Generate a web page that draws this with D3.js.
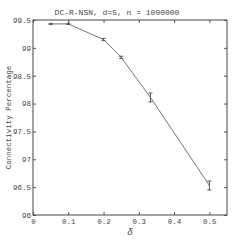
<!DOCTYPE html>
<html>
<head>
<meta charset="utf-8">
<script src="https://cdn.jsdelivr.net/npm/d3@7"></script>
<style>
body{margin:0;background:#fff;}
text{font-family:"Liberation Mono","DejaVu Sans Mono",monospace;fill:#444;}
</style>
</head>
<body>
<script>
// data
var deltas = [0.05, 0.1, 0.2, 0.25, 0.333, 0.5];
var conn = [99.43, 99.43, 99.15, 98.83, 98.11, 96.53];
var errs = [0.01, 0.01, 0.02, 0.02, 0.08, 0.08];
var xTicks = [0, 0.1, 0.2, 0.3, 0.4, 0.5];
var yTicks = [96, 96.5, 97, 97.5, 98, 98.5, 99, 99.5];

var W = 251, H = 245;
var pLeft = 33, pRight = 227, pTop = 20, pBottom = 215;

var svg = d3.select("body").append("svg").attr("width", W).attr("height", H);

var x = d3.scaleLinear().domain([0, 0.55]).range([pLeft, pRight]);
var y = d3.scaleLinear().domain([96, 99.5]).range([pBottom, pTop]);

//axes box with inward ticks like matlab
var tk = 3;
svg.append("g").attr("transform", "translate(0," + pBottom + ")")
    .call(d3.axisBottom(x).tickValues(xTicks).tickSize(-tk).tickPadding(4).tickFormat(d3.format("")))
    .call(function(g){ g.select(".domain").remove(); });
svg.append("g").attr("transform", "translate(0," + pTop + ")")
    .call(d3.axisTop(x).tickValues(xTicks).tickSize(-tk).tickFormat(""))
    .call(function(g){ g.select(".domain").remove(); });
svg.append("g").attr("transform", "translate(" + pLeft + ",0)")
    .call(d3.axisLeft(y).tickValues(yTicks).tickSize(-tk).tickPadding(2).tickFormat(d3.format("")))
    .call(function(g){ g.select(".domain").remove(); });
svg.append("g").attr("transform", "translate(" + pRight + ",0)")
    .call(d3.axisRight(y).tickValues(yTicks).tickSize(-tk).tickFormat(""))
    .call(function(g){ g.select(".domain").remove(); });

svg.selectAll(".tick line").attr("stroke", "#555");
svg.selectAll(".tick text").attr("font-size", 7.5).attr("font-family", "Liberation Mono").attr("fill", "#555");

svg.append("rect").attr("x", pLeft).attr("y", pTop)
    .attr("width", pRight - pLeft).attr("height", pBottom - pTop)
    .attr("fill", "none").attr("stroke", "#444").attr("stroke-width", 1);

//the line
var pts = deltas.map(function(d, i){ return {x: d, y: conn[i], e: errs[i]}; });
svg.append("path").datum(pts)
    .attr("fill", "none").attr("stroke", "#777").attr("stroke-width", 1)
    .attr("d", d3.line().x(function(d){ return x(d.x); }).y(function(d){ return y(d.y); }));

//error bars
var eb = svg.append("g").attr("stroke", "#555").attr("stroke-width", 1).attr("fill", "none");
pts.forEach(function(d){
    var cx = x(d.x), y1 = y(d.y + d.e), y2 = y(d.y - d.e);
    eb.append("line").attr("x1", cx).attr("x2", cx).attr("y1", y1).attr("y2", y2);
    eb.append("line").attr("x1", cx - 2).attr("x2", cx + 2).attr("y1", y1).attr("y2", y1);
    eb.append("line").attr("x1", cx - 2).attr("x2", cx + 2).attr("y1", y2).attr("y2", y2);
});

//title and labels
svg.append("text").attr("x", 117).attr("y", 15).attr("text-anchor", "middle")
    .attr("font-size", 8).text("DC-R-NSN, d=5, n = 1000000");
svg.append("text").attr("transform", "translate(8," + ((pTop + pBottom) / 2) + ") rotate(-90)")
    .attr("text-anchor", "middle").attr("dy", "0.35em").attr("font-size", 7.5)
    .text("Connectivity Percentage");
svg.append("text").attr("x", 130).attr("y", 235).attr("text-anchor", "middle")
    .attr("font-size", 9).attr("font-style", "italic").attr("font-family", "Liberation Serif")
    .text("δ");
</script>
</body>
</html>
